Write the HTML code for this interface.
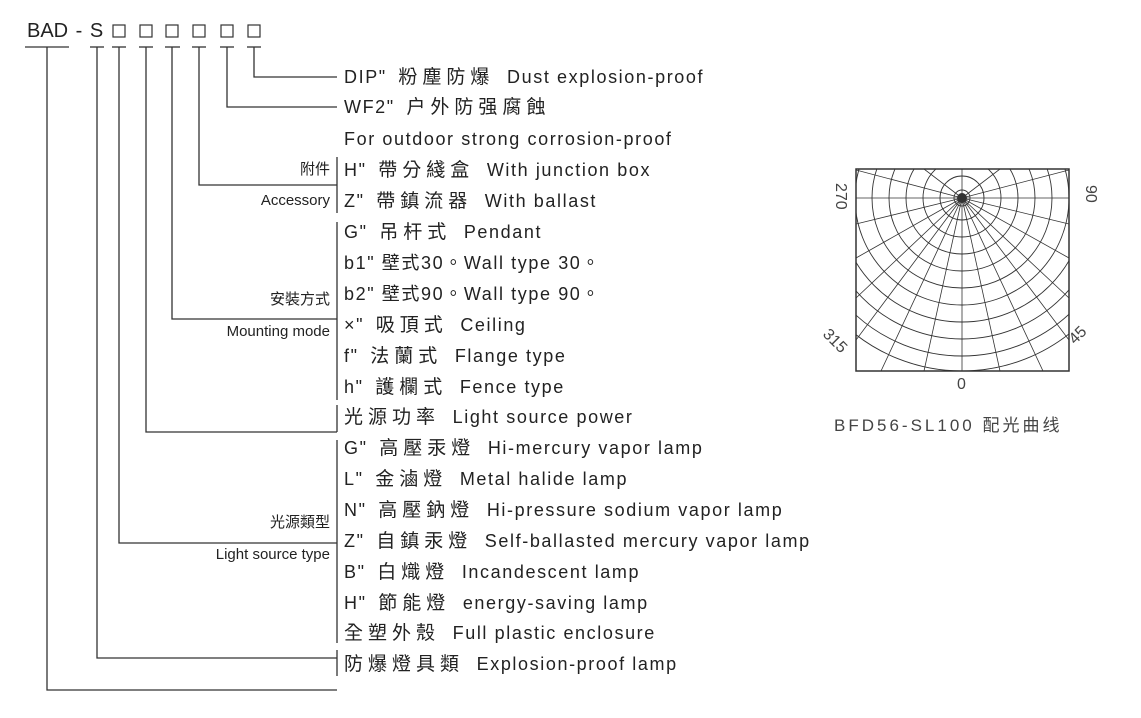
<!DOCTYPE html>
<html><head><meta charset="utf-8"><style>
body{margin:0;background:#fff;}
.w{position:relative;width:1141px;height:718px;overflow:hidden;font-family:"Liberation Sans","Noto Sans CJK TC",sans-serif;color:#222;}
.t{position:absolute;left:344px;font-size:18px;letter-spacing:1.6px;white-space:nowrap;line-height:20px;}
.t b{font-weight:normal;font-size:19px;letter-spacing:5px;margin:0 6px 0 5px;}
.g{position:absolute;right:811px;font-size:15px;white-space:nowrap;line-height:18px;text-align:right;}
</style></head><body><div class="w">
<svg width="1141" height="718" style="position:absolute;left:0;top:0" stroke="#333" stroke-width="1.3" fill="none">
<line x1="25" y1="47" x2="69" y2="47"/>
<line x1="90" y1="47" x2="104" y2="47"/>
<line x1="112" y1="47" x2="126" y2="47"/>
<line x1="139" y1="47" x2="153" y2="47"/>
<line x1="165" y1="47" x2="180" y2="47"/>
<line x1="192" y1="47" x2="206" y2="47"/>
<line x1="220" y1="47" x2="234" y2="47"/>
<line x1="247" y1="47" x2="261" y2="47"/>
<polyline points="254,47 254,77 337,77"/>
<polyline points="227,47 227,107 337,107"/>
<polyline points="199,47 199,185 337,185"/>
<polyline points="172,47 172,319 337,319"/>
<polyline points="146,47 146,432 337,432"/>
<polyline points="119,47 119,543 337,543"/>
<polyline points="97,47 97,658 337,658"/>
<polyline points="47,47 47,690 337,690"/>
<line x1="337" y1="157" x2="337" y2="213"/>
<line x1="337" y1="222" x2="337" y2="400"/>
<line x1="337" y1="405" x2="337" y2="432"/>
<line x1="337" y1="440" x2="337" y2="643"/>
<line x1="337" y1="650" x2="337" y2="676"/>
<g stroke-width="1.2">
<rect x="113" y="25" width="12" height="12"/>
<rect x="140" y="25" width="12" height="12"/>
<rect x="166" y="25" width="12" height="12"/>
<rect x="193" y="25" width="12" height="12"/>
<rect x="221" y="25" width="12" height="12"/>
<rect x="248" y="25" width="12" height="12"/>
</g>
</svg>
<div style="position:absolute;left:27px;top:20px;font-size:20px;white-space:nowrap;word-spacing:2px;">BAD - S</div>
<div class="t" style="top:67px">DIP" <b>粉塵防爆</b> Dust explosion-proof</div>
<div class="t" style="top:97px">WF2" <b>户外防强腐蝕</b></div>
<div class="t" style="top:129px">For outdoor strong corrosion-proof</div>
<div class="t" style="top:160px">H" <b>帶分綫盒</b> With junction box</div>
<div class="t" style="top:191px">Z" <b>帶鎮流器</b> With ballast</div>
<div class="t" style="top:222px">G" <b>吊杆式</b> Pendant</div>
<div class="t" style="top:253px">b1" 壁式30。Wall type 30。</div>
<div class="t" style="top:284px">b2" 壁式90。Wall type 90。</div>
<div class="t" style="top:315px">×" <b>吸頂式</b> Ceiling</div>
<div class="t" style="top:346px">f" <b>法蘭式</b> Flange type</div>
<div class="t" style="top:377px">h" <b>護欄式</b> Fence type</div>
<div class="t" style="top:407px"><b style="margin-left:0">光源功率</b> Light source power</div>
<div class="t" style="top:438px">G" <b>高壓汞燈</b> Hi-mercury vapor lamp</div>
<div class="t" style="top:469px">L" <b>金滷燈</b> Metal halide lamp</div>
<div class="t" style="top:500px">N" <b>高壓鈉燈</b> Hi-pressure sodium vapor lamp</div>
<div class="t" style="top:531px">Z" <b>自鎮汞燈</b> Self-ballasted mercury vapor lamp</div>
<div class="t" style="top:562px">B" <b>白熾燈</b> Incandescent lamp</div>
<div class="t" style="top:593px">H" <b>節能燈</b> energy-saving lamp</div>
<div class="t" style="top:623px"><b style="margin-left:0">全塑外殼</b> Full plastic enclosure</div>
<div class="t" style="top:654px"><b style="margin-left:0">防爆燈具類</b> Explosion-proof lamp</div>
<div class="g" style="top:161px">附件</div>
<div class="g" style="top:192px">Accessory</div>
<div class="g" style="top:291px">安裝方式</div>
<div class="g" style="top:323px">Mounting mode</div>
<div class="g" style="top:514px">光源類型</div>
<div class="g" style="top:546px">Light source type</div>
<svg width="1141" height="718" style="position:absolute;left:0;top:0">
<defs><clipPath id="c"><rect x="856" y="169" width="213" height="202"/></clipPath></defs>
<g clip-path="url(#c)" stroke="#333" stroke-width="0.9" fill="none">
<circle cx="962" cy="198" r="8"/><circle cx="962" cy="198" r="22"/><circle cx="962" cy="198" r="39"/><circle cx="962" cy="198" r="56"/><circle cx="962" cy="198" r="73"/><circle cx="962" cy="198" r="90"/><circle cx="962" cy="198" r="107"/><circle cx="962" cy="198" r="124"/><circle cx="962" cy="198" r="141"/><circle cx="962" cy="198" r="158"/><circle cx="962" cy="198" r="173"/>
<g stroke-width="0.8">
<path d="M962 198 L962 371 M962 198 L1000 371 M962 198 L924 371 M962 198 L1043 371 M962 198 L881 371 M962 198 L1069 340 M962 198 L856 340 M962 198 L1069 298 M962 198 L856 298 M962 198 L1069 258 M962 198 L856 258 M962 198 L1069 224 M962 198 L856 224 M962 198 L1069 198 M962 198 L856 198 M962 198 L1069 170 M962 198 L856 170 M962 198 L1000 169 M962 198 L924 169 M962 198 L962 169"/>
</g>
</g>
<rect x="856" y="169" width="213" height="202" stroke="#333" stroke-width="1.5" fill="none"/>
<circle cx="962" cy="198" r="5" fill="#333"/>
<g font-family="Liberation Sans" font-size="16" fill="#444">
<text x="957" y="389">0</text>
<text transform="translate(836,183) rotate(90)">270</text>
<text transform="translate(1086,185) rotate(90)">90</text>
<text transform="translate(822,335) rotate(45)">315</text>
<text transform="translate(1075,345) rotate(-45)">45</text>
<text x="834" y="431" font-size="17" letter-spacing="3" font-family="Liberation Sans,Noto Sans CJK SC,sans-serif">BFD56-SL100 配光曲线</text>
</g>
</svg>
</div></body></html>
